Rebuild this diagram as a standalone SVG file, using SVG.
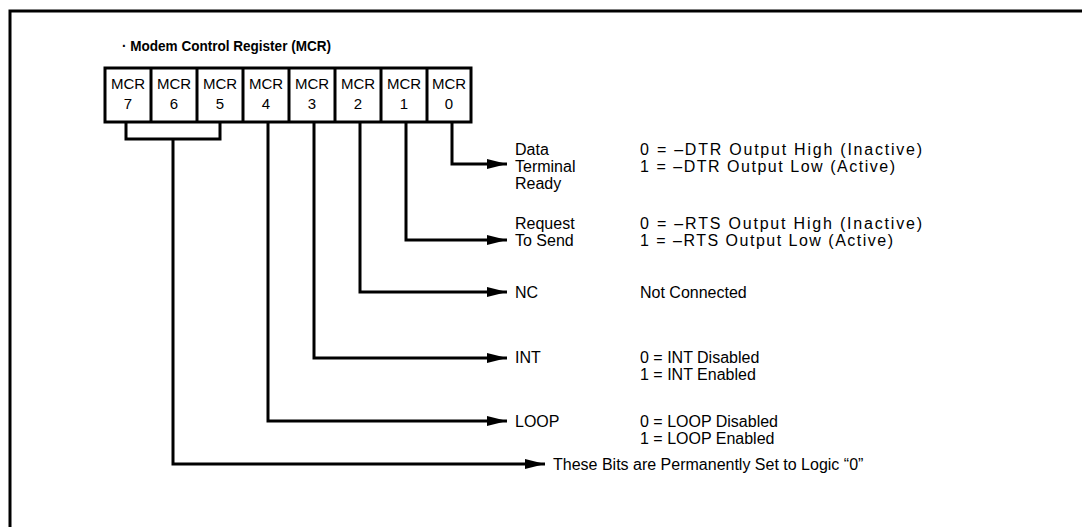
<svg xmlns="http://www.w3.org/2000/svg" width="1082" height="527" viewBox="0 0 1082 527">
<defs>
<style>
text{font-family:"Liberation Sans",Arial,sans-serif;font-size:16px;fill:#000}
.title{font-weight:bold;font-size:14px}
.cell{font-size:15px;text-anchor:middle}
.ln{fill:none;stroke:#000;stroke-width:3}
.box{fill:#fff;stroke:#000;stroke-width:3}
</style>
<marker id="ah" markerWidth="22" markerHeight="12" refX="20" refY="6" orient="auto" markerUnits="userSpaceOnUse">
<path d="M0,1 L20,6 L0,11 Z" fill="#000"/>
</marker>
</defs>
<rect width="1082" height="527" fill="#fff"/>
<g id="frame">
<path class="ln" d="M10,527 L10,11 L1082,11"/>
</g>
<g id="title"><text class="title" x="122" y="51" textLength="209" lengthAdjust="spacingAndGlyphs">· Modem Control Register (MCR)</text></g>
<g id="register">
<rect class="box" x="105" y="68" width="366" height="54"/>
<path class="ln" d="M151,68V122M197,68V122M243,68V122M289,68V122M335,68V122M381,68V122M427,68V122"/>
<text class="cell" x="128" y="89">MCR</text><text class="cell" x="128" y="109">7</text>
<text class="cell" x="174" y="89">MCR</text><text class="cell" x="174" y="109">6</text>
<text class="cell" x="220" y="89">MCR</text><text class="cell" x="220" y="109">5</text>
<text class="cell" x="266" y="89">MCR</text><text class="cell" x="266" y="109">4</text>
<text class="cell" x="312" y="89">MCR</text><text class="cell" x="312" y="109">3</text>
<text class="cell" x="358" y="89">MCR</text><text class="cell" x="358" y="109">2</text>
<text class="cell" x="404" y="89">MCR</text><text class="cell" x="404" y="109">1</text>
<text class="cell" x="449" y="89">MCR</text><text class="cell" x="449" y="109">0</text>
</g>
<g id="connectors">
<path class="ln" marker-end="url(#ah)" d="M452,122V164H507"/>
<path class="ln" marker-end="url(#ah)" d="M406,122V240H507"/>
<path class="ln" marker-end="url(#ah)" d="M360,122V292H507"/>
<path class="ln" marker-end="url(#ah)" d="M314,122V358H507"/>
<path class="ln" marker-end="url(#ah)" d="M268,122V421H507"/>
<path class="ln" d="M126,122V139H220V122"/>
<path class="ln" marker-end="url(#ah)" d="M173,139V464H545"/>
</g>
<g id="dtr">
<text x="515" y="155">Data</text><text x="515" y="172">Terminal</text><text x="515" y="189">Ready</text>
<text x="640" y="155" textLength="282" lengthAdjust="spacing">0 = –DTR Output High (Inactive)</text>
<text x="640" y="172" textLength="255" lengthAdjust="spacing">1 = –DTR Output Low (Active)</text>
</g>
<g id="rts">
<text x="515" y="229">Request</text><text x="515" y="246">To Send</text>
<text x="640" y="229" textLength="282" lengthAdjust="spacing">0 = –RTS Output High (Inactive)</text>
<text x="640" y="246" textLength="253" lengthAdjust="spacing">1 = –RTS Output Low (Active)</text>
</g>
<g id="nc">
<text x="515" y="298">NC</text><text x="640" y="298">Not Connected</text>
</g>
<g id="int">
<text x="515" y="363">INT</text>
<text x="640" y="363">0 = INT Disabled</text>
<text x="640" y="380">1 = INT Enabled</text>
</g>
<g id="loop">
<text x="515" y="427">LOOP</text>
<text x="640" y="427">0 = LOOP Disabled</text>
<text x="640" y="444">1 = LOOP Enabled</text>
</g>
<g id="fixed">
<text x="553" y="470">These Bits are Permanently Set to Logic “0”</text>
</g>
</svg>
